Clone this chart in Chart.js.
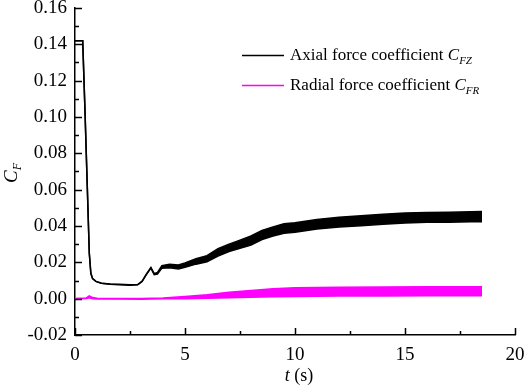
<!DOCTYPE html>
<html>
<head>
<meta charset="utf-8">
<script src="https://cdn.jsdelivr.net/npm/chart.js@4/dist/chart.umd.min.js"></script>
<style>
  html, body { margin: 0; padding: 0; background: #fff; }
  #wrap { width: 526px; height: 389px; position: relative; }
</style>
</head>
<body>
<div id="wrap"><canvas id="grafico" width="526" height="389"></canvas></div>
<script>
// Datos (t en s)
const tiempoAxial = [0, 0.35, 0.45, 0.55, 0.65, 0.72, 0.8, 0.95, 1.2, 1.6, 2.0, 2.5, 2.85, 3.05, 3.25, 3.45, 3.6, 3.75, 3.95, 4.3, 4.7, 5.0, 5.5, 6.0, 6.5, 7.0, 7.5, 8.0, 8.5, 9.0, 9.5, 10, 11, 12, 13, 14, 15, 16, 17, 18, 18.5];
const axialSup = [0.142, 0.142, 0.105, 0.065, 0.025, 0.014, 0.011, 0.0095, 0.0085, 0.0081, 0.0079, 0.0076, 0.0078, 0.0096, 0.0136, 0.0172, 0.0138, 0.0145, 0.0182, 0.0190, 0.0186, 0.0197, 0.0220, 0.0237, 0.0275, 0.0300, 0.0322, 0.0345, 0.0375, 0.0395, 0.0412, 0.0418, 0.0436, 0.0448, 0.0456, 0.0465, 0.0472, 0.0475, 0.0476, 0.0478, 0.0480];
const axialInf = [0.142, 0.142, 0.105, 0.065, 0.025, 0.014, 0.011, 0.0095, 0.0085, 0.0079, 0.0077, 0.0074, 0.0076, 0.0094, 0.0134, 0.0168, 0.0132, 0.0135, 0.0168, 0.0170, 0.0164, 0.0173, 0.0190, 0.0203, 0.0235, 0.0260, 0.0278, 0.0295, 0.0325, 0.0345, 0.0360, 0.0365, 0.0384, 0.0394, 0.0402, 0.0410, 0.0417, 0.0420, 0.0421, 0.0423, 0.0424];

const tiempoRadial = [0, 0.5, 0.65, 0.8, 1.0, 2.0, 3.0, 4.0, 5.0, 6.0, 7.0, 8.0, 9.0, 10, 12, 14, 16, 18.5];
const radialSup = [0.0001, 0.0003, 0.0015, 0.0006, 0.0002, 0.0001, 0.0001, 0.0004, 0.0012, 0.0022, 0.0035, 0.0045, 0.0055, 0.0060, 0.0063, 0.0064, 0.0065, 0.0066];
const radialInf = [-0.0001, 0.0001, 0.0005, 0.0000, -0.0002, -0.0002, -0.0003, 0.0000, 0.0000, 0.0002, 0.0005, 0.0008, 0.0011, 0.0012, 0.0014, 0.0015, 0.0016, 0.0016];

const ticksX = [0, 5, 10, 15, 20];
const ticksY = [-0.02, 0, 0.02, 0.04, 0.06, 0.08, 0.10, 0.12, 0.14, 0.16];
const leyenda = [
  { texto: 'Axial force coefficient ', sub: 'FZ', color: '#000000' },
  { texto: 'Radial force coefficient ', sub: 'FR', color: '#ff00ff' }
];

const FUENTE = '"Liberation Serif", "Times New Roman", serif';

function puntos(xs, ys) {
  return xs.map((x, i) => ({ x: x, y: ys[i] }));
}

// Marcas hacia adentro, titulos y leyenda
const decoracion = {
  id: 'decoracion',
  afterDraw(chart) {
    const { ctx, chartArea, scales } = chart;
    const sx = scales.x, sy = scales.y;
    ctx.save();
    ctx.strokeStyle = '#000';
    ctx.lineWidth = 1.5;
    ctx.beginPath();
    for (let v = 0; v <= 20.001; v += 2.5) {
      const px = Math.round(sx.getPixelForValue(v)) + 0.5;
      const largo = (Math.abs(v % 5) < 0.001) ? 7 : 4;
      ctx.moveTo(px, chartArea.bottom);
      ctx.lineTo(px, chartArea.bottom - largo);
    }
    for (let k = -2; k <= 16; k++) {
      const py = Math.round(sy.getPixelForValue(k / 100)) + 0.5;
      const largo = (k % 2 === 0) ? 7 : 4;
      ctx.moveTo(chartArea.left, py);
      ctx.lineTo(chartArea.left + largo, py);
    }
    ctx.stroke();

    // titulo eje x
    ctx.fillStyle = '#000';
    ctx.textBaseline = 'alphabetic';
    ctx.font = 'italic 18px ' + FUENTE;
    const w1 = ctx.measureText('t').width;
    ctx.font = '18px ' + FUENTE;
    const w2 = ctx.measureText(' (s)').width;
    const x0 = 299 - (w1 + w2) / 2;
    ctx.font = 'italic 18px ' + FUENTE;
    ctx.fillText('t', x0, 381);
    ctx.font = '18px ' + FUENTE;
    ctx.fillText(' (s)', x0 + w1, 381);

    // titulo eje y (rotado)
    ctx.save();
    ctx.translate(17, 183);
    ctx.rotate(-Math.PI / 2);
    ctx.font = 'italic 19px ' + FUENTE;
    ctx.fillText('C', 0, 0);
    const wc = ctx.measureText('C').width;
    ctx.font = 'italic 12px ' + FUENTE;
    ctx.fillText('F', wc, 4);
    ctx.restore();

    // leyenda
    leyenda.forEach((item, i) => {
      const y = 55 + i * 30;
      ctx.strokeStyle = item.color;
      ctx.lineWidth = 1.5;
      ctx.beginPath();
      ctx.moveTo(242, y + 0.5);
      ctx.lineTo(284, y + 0.5);
      ctx.stroke();
      ctx.fillStyle = '#000';
      ctx.font = '17px ' + FUENTE;
      ctx.fillText(item.texto, 290, y + 5);
      let xx = 290 + ctx.measureText(item.texto).width;
      ctx.font = 'italic 17px ' + FUENTE;
      ctx.fillText('C', xx, y + 5);
      xx += ctx.measureText('C').width;
      ctx.font = 'italic 11px ' + FUENTE;
      ctx.fillText(item.sub, xx, y + 9);
    });
    ctx.restore();
  }
};

new Chart(document.getElementById('grafico'), {
  type: 'line',
  data: {
    datasets: [
      { data: puntos(tiempoAxial, axialSup), borderColor: '#000', backgroundColor: '#000', borderWidth: 1.5, fill: false },
      { data: puntos(tiempoAxial, axialInf), borderColor: '#000', backgroundColor: '#000', borderWidth: 1.5, fill: '-1' },
      { data: puntos(tiempoRadial, radialSup), borderColor: '#ff00ff', backgroundColor: '#ff00ff', borderWidth: 1.5, fill: false },
      { data: puntos(tiempoRadial, radialInf), borderColor: '#ff00ff', backgroundColor: '#ff00ff', borderWidth: 1.5, fill: '-1' }
    ]
  },
  options: {
    responsive: false,
    animation: false,
    layout: { padding: { top: 8, right: 11, left: 0, bottom: 0 } },
    elements: { point: { radius: 0 }, line: { tension: 0 } },
    plugins: { legend: { display: false }, tooltip: { enabled: false } },
    scales: {
      x: {
        type: 'linear',
        min: 0, max: 20,
        afterBuildTicks: (s) => { s.ticks = ticksX.map(v => ({ value: v })); },
        afterFit: (s) => { s.height = 54; s.paddingLeft = 0; s.paddingRight = 0; },
        grid: { drawOnChartArea: false, drawTicks: false },
        border: { display: true, color: '#000', width: 1.5 },
        ticks: { color: '#000', padding: 9, font: { family: FUENTE, size: 19 }, maxRotation: 0 }
      },
      y: {
        type: 'linear',
        min: -0.02, max: 0.16,
        afterBuildTicks: (s) => { s.ticks = ticksY.map(v => ({ value: v })); },
        afterFit: (s) => { s.width = 75; s.paddingTop = 0; s.paddingBottom = 0; },
        grid: { drawOnChartArea: false, drawTicks: false },
        border: { display: true, color: '#000', width: 1.5 },
        ticks: { color: '#000', padding: 8, font: { family: FUENTE, size: 19 }, callback: (v) => v.toFixed(2) }
      }
    }
  },
  plugins: [decoracion]
});
</script>
</body>
</html>
